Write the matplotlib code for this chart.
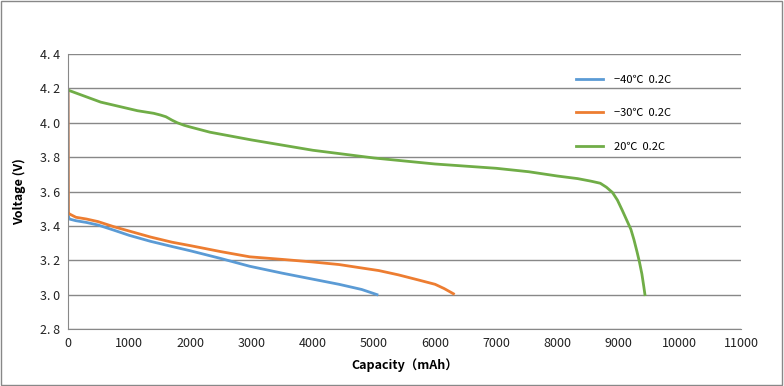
import matplotlib
matplotlib.use("Agg")
import matplotlib.pyplot as plt
from matplotlib.patches import Rectangle

plt.rcParams['font.family'] = ['Noto Sans CJK SC', 'DejaVu Sans']

# ── Data ─────────────────────────────────────────────────────────────────────
cap_m40 = [0, 5, 20, 130, 300, 490, 750, 1000, 1350, 1700, 2000, 2500, 2970, 3500,
           4000, 4430, 4800, 5050]
volt_m40 = [4.19, 3.46, 3.44, 3.43, 3.42, 3.405, 3.375, 3.345, 3.31, 3.28, 3.255, 3.21,
            3.165, 3.125, 3.09, 3.06, 3.03, 3.00]

cap_m30 = [0, 5, 20, 130, 300, 490, 750, 1000, 1350, 1700, 2000, 2500, 2970, 3500, 4000,
           4430, 4800, 5080, 5400, 5730, 6000, 6150, 6300]
volt_m30 = [4.19, 3.48, 3.47, 3.45, 3.44, 3.425, 3.395, 3.37, 3.335, 3.305, 3.285, 3.25,
            3.22, 3.205, 3.19, 3.175, 3.155, 3.14, 3.115, 3.085, 3.06, 3.035, 3.005]

cap_20 = [0, 535, 1136, 1400, 1510, 1600, 1700, 1786, 1900, 2000, 2320, 3000, 4000, 5000,
          6000, 7000, 7530, 8000, 8330, 8550, 8700, 8800, 8900, 8980, 9060, 9130, 9200,
          9250, 9300, 9340, 9380, 9410, 9430]
volt_20 = [4.19, 4.12, 4.07, 4.055, 4.045, 4.035, 4.015, 4.0, 3.985, 3.975, 3.945, 3.90,
           3.84, 3.795, 3.76, 3.735, 3.715, 3.69, 3.675, 3.66, 3.648, 3.625, 3.594, 3.55,
           3.49, 3.435, 3.38, 3.32, 3.25, 3.19, 3.12, 3.05, 3.0]

labels = ["\u221240\u2103  0.2C", "\u221230\u2103  0.2C", "20\u2103  0.2C"]
colors = ["#5B9BD5", "#ED7D31", "#70AD47"]

# ── Plot ─────────────────────────────────────────────────────────────────────
fig = plt.figure(figsize=(7.84, 3.86), dpi=100)
fig.patches.append(Rectangle((0.001, 0.002), 0.997, 0.995, transform=fig.transFigure,
                             fill=False, edgecolor="#888888", linewidth=1))
ax = fig.add_axes([68 / 784, 1 - 329 / 386, (741 - 68) / 784, (329 - 54) / 386])

for cap, volt, lab, col in zip([cap_m40, cap_m30, cap_20], [volt_m40, volt_m30, volt_20],
                               labels, colors):
    ax.plot(cap, volt, color=col, linewidth=2, label=lab, solid_joinstyle="round")

ax.set_xlim(0, 11000)
ax.set_ylim(2.8, 4.4)
ax.set_xticks(range(0, 11001, 1000))
ax.set_yticks([2.8 + 0.2 * i for i in range(9)])
ax.set_yticklabels([f"{2.8 + 0.2 * i:.1f}".replace(".", ". ") for i in range(9)])
ax.tick_params(length=0, labelsize=9, pad=6, colors="#222222")
ax.grid(axis="y", color="#888888", linewidth=1)
ax.set_axisbelow(True)
for side in ["top", "right"]:
    ax.spines[side].set_visible(False)
for side in ["left", "bottom"]:
    ax.spines[side].set_color("#888888")

ax.set_xlabel("Capacity\uff08mAh\uff09", fontsize=9, fontweight="bold", labelpad=6)
ax.set_ylabel("Voltage (V)", fontsize=9, fontweight="bold", labelpad=10)

ax.legend(loc="upper left", bbox_to_anchor=(0.74, 0.96), frameon=False, fontsize=8,
          handlelength=2.4, handletextpad=1.0, labelspacing=2.1)

fig.savefig("out.png", dpi=100)
